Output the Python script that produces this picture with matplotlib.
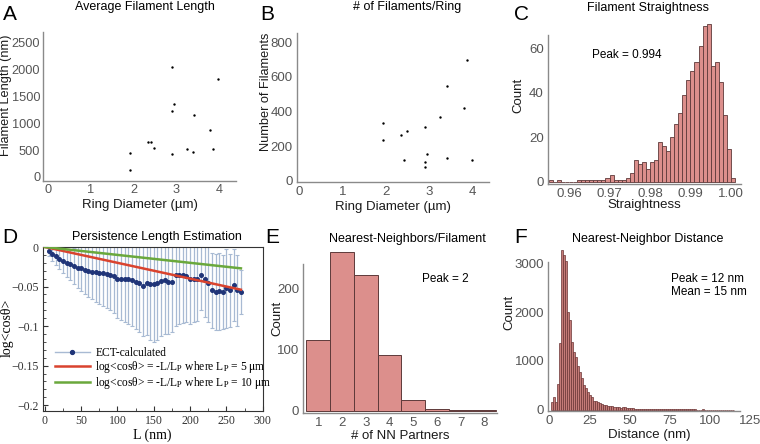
import matplotlib
matplotlib.use("Agg")
import matplotlib.pyplot as plt
import numpy as np
from matplotlib.lines import Line2D

plt.rcParams['font.family'] = ['Liberation Sans', 'DejaVu Sans']
plt.rcParams['mathtext.fontset'] = 'stix'

# ---------------- data ----------------
ring_diam_A = [1.91, 1.91, 2.33, 2.41, 2.48, 2.90, 2.89, 2.94, 2.90, 3.25, 3.41, 3.40, 3.80, 3.85, 3.97]
fil_len_A = [447, 124, 651, 651, 540, 2047, 1228, 1358, 422, 521, 1148, 465, 875, 515, 1818]

ring_diam_B = [1.92, 1.92, 2.34, 2.48, 2.42, 2.90, 2.94, 2.90, 2.90, 3.25, 3.41, 3.42, 3.80, 3.87, 3.98]
num_fil_B = [335, 236, 263, 286, 120, 312, 156, 109, 82, 366, 547, 130, 421, 699, 118]

straight_bin_start = 0.955
straight_bin_width = 0.001
straight_counts = [1, 0, 1, 0, 0, 0, 0, 1, 1, 1, 1, 1, 1, 1, 2, 3, 1, 1, 1, 2, 4,
                   10, 8, 9, 6, 9, 10, 18, 16, 14, 20, 26, 31, 39, 46, 50, 54, 61, 70, 71,
                   52, 54, 45, 30, 15, 2]

L_nm = [5, 10, 15, 20, 25, 30, 35, 40, 45, 50, 55, 60, 65, 70, 75, 80, 85, 90, 95, 100,
        105, 110, 115, 120, 125, 130, 135, 140, 145, 150, 155, 160, 165, 170, 175, 180,
        185, 190, 195, 200, 205, 210, 215, 220, 225, 230, 235, 240, 245, 250, 255, 260,
        265, 270]
logcos = [-0.005, -0.009, -0.012, -0.015, -0.018, -0.020, -0.022, -0.024, -0.026, -0.027,
          -0.029, -0.030, -0.031, -0.032, -0.033, -0.033, -0.034, -0.035, -0.037, -0.040,
          -0.040, -0.041, -0.041, -0.042, -0.044, -0.045, -0.049, -0.045, -0.047, -0.047,
          -0.045, -0.043, -0.042, -0.044, -0.044, -0.036, -0.035, -0.036, -0.037, -0.040,
          -0.040, -0.040, -0.035, -0.040, -0.045, -0.055, -0.057, -0.056, -0.057, -0.052,
          -0.055, -0.048, -0.055, -0.057]
logcos_err = [0.007, 0.009, 0.011, 0.013, 0.015, 0.018, 0.020, 0.023, 0.026, 0.029,
              0.031, 0.033, 0.035, 0.037, 0.039, 0.041, 0.043, 0.045, 0.047, 0.050,
              0.052, 0.054, 0.056, 0.058, 0.060, 0.062, 0.064, 0.066, 0.070, 0.073,
              0.072, 0.070, 0.068, 0.066, 0.064, 0.064, 0.062, 0.060, 0.058, 0.057,
              0.055, 0.053, 0.045, 0.048, 0.050, 0.048, 0.048, 0.049, 0.047, 0.050,
              0.046, 0.045, 0.045, 0.028]
Lp_values_nm = [5000, 10000]
L_model_end = 270

nn_partners = [1, 2, 3, 4, 5, 6, 7, 8]
nn_counts = [116, 260, 222, 91, 17, 3, 1, 1]

dist_bin_start = 1.25
dist_bin_width = 1.25
dist_counts = [150, 260, 160, 520, 1370, 3270, 3180, 3050, 2000, 1830, 1390, 1180, 1080, 900,
               770, 640, 500, 450, 360, 300, 250, 185, 170,
               150, 130, 120, 100, 90, 80, 70, 65, 60, 50, 45, 40, 45, 50, 40, 30, 25,
               25, 22, 20, 18, 16, 15, 14, 12, 12, 10, 10, 9, 8, 8, 7, 7, 6, 6, 5, 5,
               5, 6, 5, 4, 4, 4, 3, 3, 3, 3, 3, 3, 2, 2, 2, 15, 2, 2, 2, 2, 2, 2, 1, 1,
               1, 1, 1, 1, 1, 1, 1]

# ---------------- figure ----------------
W, H = 760, 444
fig = plt.figure(figsize=(W / 100, H / 100), dpi=100)


def px_ax(l, t, r, b):
    return fig.add_axes([l / W, 1 - b / H, (r - l) / W, (b - t) / H])


SPINE = '#8a8a8a'
TICKC = '#555555'
LABC = '#1a1a1a'
BARF = '#dc8f8c'
BARE = '#5e3a3a'


def style_simple(ax, size=9.5, pad=3):
    for s in ['top', 'right']:
        ax.spines[s].set_visible(False)
    for s in ['left', 'bottom']:
        ax.spines[s].set_color(SPINE)
        ax.spines[s].set_linewidth(1.0)
    ax.tick_params(length=0, labelsize=size, colors=TICKC, pad=pad)


def ylabel_px(ax, text, xc, yc, **kw):
    ax.set_ylabel(text, **kw)
    ax.yaxis.set_label_coords(xc / W, 1 - yc / H, transform=fig.transFigure)
    ax.yaxis.label.set_va('center')


def letter(x, y, s):
    fig.text(x / W, 1 - y / H, s, fontsize=15, ha='left', va='center', color='black')


def title(x, y, s):
    fig.text(x / W, 1 - y / H, s, fontsize=9, ha='center', va='center', color='black')


# A
axA = px_ax(43, 32, 236, 181)
axA.scatter(ring_diam_A, fil_len_A, s=3, color='black', lw=0)
axA.set_xlim(-0.12, 4.4)
axA.set_ylim(-75, 2690)
axA.set_xticks([0, 1, 2, 3, 4])
axA.set_yticks([0, 500, 1000, 1500, 2000, 2500])
style_simple(axA, size=9.2, pad=2)
axA.set_xlabel('Ring Diameter (µm)', fontsize=9.5, color=LABC, labelpad=2)
ylabel_px(axA, 'Filament Length (nm)', 6, 95, fontsize=9.2, color=LABC)
letter(3, 14, 'A')
title(145, 7, 'Average Filament Length')

# B
axB = px_ax(297, 33, 489, 182)
axB.scatter(ring_diam_B, num_fil_B, s=3, color='black', lw=0)
axB.set_xlim(-0.06, 4.38)
axB.set_ylim(-6, 853)
axB.set_xticks([0, 1, 2, 3, 4])
axB.set_yticks([0, 200, 400, 600, 800])
style_simple(axB)
axB.set_xlabel('Ring Diameter (µm)', fontsize=9.5, color=LABC, labelpad=2)
ylabel_px(axB, 'Number of Filaments', 266, 92, fontsize=9.2, color=LABC)
letter(260, 14, 'B')
title(407, 7, '# of Filaments/Ring')

# C
axC = px_ax(548, 35, 741, 184)
edgesC = straight_bin_start + straight_bin_width * np.arange(len(straight_counts))
axC.bar(edgesC, straight_counts, width=straight_bin_width, align='edge',
        color=BARF, edgecolor=BARE, linewidth=0.6, clip_on=False)
axC.set_xlim(0.9548, 1.0025)
axC.set_ylim(-0.9, 66)
axC.set_xticks([0.96, 0.97, 0.98, 0.99, 1.00])
axC.set_xticklabels(['0.96', '0.97', '0.98', '0.99', '1.00'])
axC.set_yticks([0, 20, 40, 60])
style_simple(axC)
axC.set_xlabel('Straightness', fontsize=9.5, color=LABC, labelpad=-1)
ylabel_px(axC, 'Count', 518, 95, fontsize=9.5, color=LABC)
axC.text(0.9657, 57, 'Peak = 0.994', fontsize=8.5, ha='left', va='center')
letter(514, 14, 'C')
title(648, 8, 'Filament Straightness')

# D
serif = ['Liberation Serif', 'DejaVu Serif']
axD = px_ax(42.7, 247, 262.7, 410.7)
axD.errorbar(L_nm, logcos, yerr=logcos_err, fmt='o', ms=2.6, color='#1f3478',
             ecolor='#a8bad3', elinewidth=0.9, capsize=1.6, capthick=0.8, zorder=2)
Lline = np.array([0, L_model_end])
axD.plot(Lline, -Lline / Lp_values_nm[0], color='#d9432e', lw=1.8, zorder=3)
axD.plot(Lline, -Lline / Lp_values_nm[1], color='#6aa83c', lw=1.8, zorder=3)
axD.set_xlim(-3, 300)
axD.set_ylim(-0.207, 0)
axD.set_xticks([0, 50, 100, 150, 200, 250, 300])
axD.set_xticks([25, 75, 125, 175, 225, 275], minor=True)
axD.set_yticks([0, -0.05, -0.1, -0.15, -0.2])
axD.set_yticklabels(['0', '\u22120.05', '\u22120.1', '\u22120.15', '\u22120.2'])
axD.set_yticks(np.arange(-0.2, 0.001, 0.01), minor=True)
for s in axD.spines.values():
    s.set_color('#333333')
    s.set_linewidth(0.8)
axD.tick_params(which='both', direction='in', top=False, right=False, colors='#333333',
                labelsize=8.5, pad=3)
axD.tick_params(which='major', length=3.5)
axD.tick_params(which='minor', length=2)
for lab in axD.get_xticklabels() + axD.get_yticklabels():
    lab.set_family(serif)
axD.set_xlabel('L (nm)', fontsize=10, family=serif, labelpad=1)
ylabel_px(axD, 'log<cosθ>', 7, 328, fontsize=10, family=serif)
h1 = Line2D([], [], color='#a8bad3', lw=1.0, marker='o', ms=2.8, mfc='#1f3478', mec='#1f3478')
h2 = Line2D([], [], color='#d9432e', lw=1.8)
h3 = Line2D([], [], color='#6aa83c', lw=1.8)
leg = axD.legend([h1, h2, h3],
                 ['ECT-calculated',
                  r'log<cosθ> = -L/L$_\mathrm{P}$ where L$_\mathrm{P}$ = 5 $\mathrm{\mu}$m',
                  r'log<cosθ> = -L/L$_\mathrm{P}$ where L$_\mathrm{P}$ = 10 $\mathrm{\mu}$m'],
                 loc='lower left', bbox_to_anchor=(0.035, 0.095), frameon=False,
                 prop={'family': serif, 'size': 8.3}, handlelength=3.0,
                 handletextpad=0.5, labelspacing=0.0, borderaxespad=0)
letter(2, 237, 'D')
title(157, 237, 'Persistence Length Estimation')

# E
axE = px_ax(303.3, 263.7, 496.7, 412.7)
axE.bar(nn_partners, nn_counts, width=1.0, color=BARF, edgecolor=BARE, linewidth=0.7,
        clip_on=False)
axE.set_xlim(0.37, 8.52)
axE.set_ylim(-3.3, 241)
axE.set_xticks(nn_partners)
axE.set_yticks([0, 100, 200])
style_simple(axE)
axE.set_xlabel('# of NN Partners', fontsize=9.5, color=LABC, labelpad=1)
ylabel_px(axE, 'Count', 277, 318, fontsize=9.5, color=LABC)
axE.text(5.37, 216, 'Peak = 2', fontsize=8.5, ha='left', va='center')
letter(265, 237, 'E')
title(407, 239, 'Nearest-Neighbors/Filament')

# F
axF = px_ax(548.3, 262, 750, 411.3)
edgesF = dist_bin_start + dist_bin_width * np.arange(len(dist_counts))
axF.bar(edgesF, dist_counts, width=dist_bin_width, align='edge',
        color='#c57b78', edgecolor='#6a3434', linewidth=0.5, clip_on=False)
axF.set_xlim(-0.6, 125)
axF.set_ylim(-34, 3030)
axF.set_xticks([0, 25, 50, 75, 100, 125])
axF.set_yticks([0, 1000, 2000, 3000])
style_simple(axF)
axF.spines['bottom'].set_bounds(-0.6, 118.8)
axF.set_xlabel('Distance (nm)', fontsize=9.5, color=LABC, labelpad=1)
ylabel_px(axF, 'Count', 509, 312, fontsize=9.5, color=LABC)
axF.text(75.6, 2545, 'Peak = 12 nm\nMean = 15 nm', fontsize=8.5, ha='left', va='center',
         linespacing=1.1)
letter(514, 237, 'F')
title(648, 239, 'Nearest-Neighbor Distance')

fig.savefig('out.png', dpi=100)
